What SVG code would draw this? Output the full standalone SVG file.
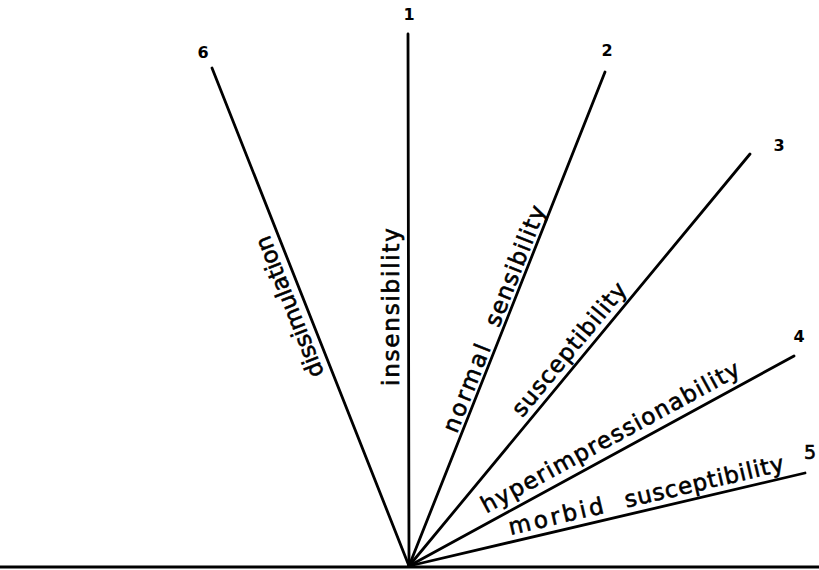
<svg xmlns="http://www.w3.org/2000/svg" width="819" height="570" viewBox="0 0 819 570">
<style>
.ln{stroke:#000;stroke-width:2.8;stroke-linecap:round;fill:none}
.lb{font-family:"DejaVu Sans",sans-serif;font-size:23px;fill:#000;stroke:#000;stroke-width:0.6}
.num{font-family:"DejaVu Sans","Liberation Sans",sans-serif;font-weight:bold;font-size:16px;fill:#000;text-anchor:middle}
</style>
<rect width="819" height="570" fill="#fff"/>
<g id="connectors">
<line class="ln" x1="0" y1="567" x2="819" y2="567" style="stroke-width:3.2"/>
<line class="ln" x1="409" y1="566" x2="408" y2="34"/>
<line class="ln" x1="409" y1="566" x2="605" y2="72"/>
<line class="ln" x1="409" y1="566" x2="750" y2="154"/>
<line class="ln" x1="409" y1="566" x2="794" y2="356"/>
<line class="ln" x1="409" y1="566" x2="805" y2="473"/>
<line class="ln" x1="409" y1="566" x2="212" y2="68"/>
</g>
<g id="ray1">
<text class="num" x="409" y="20">1</text>
<text class="lb" transform="translate(409,566) rotate(-90)" x="180" y="-10" textLength="158" lengthAdjust="spacing">insensibility</text>
</g>
<g id="ray2">
<text class="num" x="607" y="56">2</text>
<text class="lb" transform="translate(409,566) rotate(-68.4)" x="140" y="-4" textLength="93" lengthAdjust="spacing">normal</text>
<text class="lb" transform="translate(409,566) rotate(-68.4)" x="254" y="-4" textLength="128" lengthAdjust="spacing">sensibility</text>
</g>
<g id="ray3">
<text class="num" x="779" y="151">3</text>
<text class="lb" transform="translate(409,566) rotate(-50.4)" x="186" y="-7" textLength="166" lengthAdjust="spacing">susceptibility</text>
</g>
<g id="ray4">
<text class="num" x="799" y="342">4</text>
<text class="lb" transform="translate(409,566) rotate(-28.6)" x="93" y="-9" textLength="291" lengthAdjust="spacing">hyperimpressionability</text>
</g>
<g id="ray5">
<text class="lb" x="810" y="459" style="font-size:19px;text-anchor:middle">5</text>
<text class="lb" transform="translate(409,566) rotate(-13.2)" x="106" y="-7" textLength="97" lengthAdjust="spacing">morbid</text>
<text class="lb" transform="translate(409,566) rotate(-13.2)" x="225" y="-7" textLength="163" lengthAdjust="spacing">susceptibility</text>
</g>
<g id="ray6">
<text class="num" x="203" y="58">6</text>
<text class="lb" transform="translate(409,566) rotate(-111.6)" x="210" y="-8" textLength="150" lengthAdjust="spacing">dissimulation</text>
</g>
</svg>
